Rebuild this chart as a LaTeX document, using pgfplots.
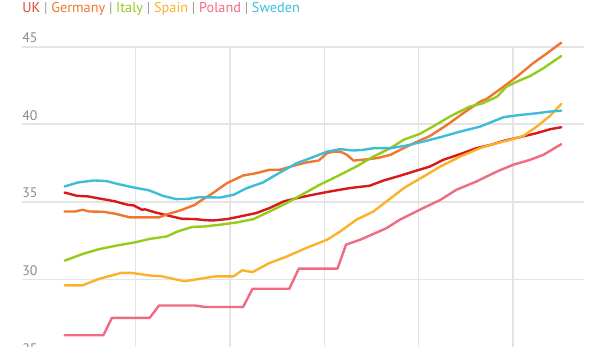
\documentclass[border=0pt]{standalone}
\usepackage{fontspec}
\setmainfont{PT Sans}
\usepackage{pgfplots}
\pgfplotsset{compat=1.18}
\definecolor{ukc}{HTML}{D7191C}
\definecolor{dec}{HTML}{EF7630}
\definecolor{itc}{HTML}{93CC1D}
\definecolor{esc}{HTML}{FBB22A}
\definecolor{plc}{HTML}{F06B82}
\definecolor{sec}{HTML}{3FBCD8}
\definecolor{ukt}{HTML}{E2443A}
\definecolor{gridc}{HTML}{E4E4E4}
\definecolor{labc}{HTML}{8A8A8A}
\definecolor{sepc}{HTML}{9A9A9A}
\begin{document}
\begin{tikzpicture}
\begin{axis}[
  at={(0pt,0pt)}, anchor=south west,
  scale only axis, width=421.5pt, height=232.7pt,
  xmin=1957.98, xmax=2017.51, ymin=25, ymax=45,
  axis line style={draw=none},
  major tick length=0pt,
  xtick={1970,1980,1990,2000,2010}, xticklabels={},
  ytick={25,30,35,40,45}, yticklabels={25,30,35,40,45},
  grid=major,
  x grid style={gridc, line width=1pt},
  y grid style={gridc, line width=1.3pt},
  yticklabel style={anchor=base west, inner sep=0pt, xshift=0pt, yshift=3pt, text=labc, font=\fontsize{10.4}{12}\selectfont},
  every axis plot/.append style={line width=1.8pt, line join=round, line cap=round, no markers},
  clip=false,
]
% UK
\addplot[ukc] coordinates {
(1962.5,35.60) (1963.8,35.39) (1965.0,35.35) (1966.5,35.18) (1967.8,35.04) (1968.5,34.92)
(1969.2,34.81) (1969.8,34.77) (1970.7,34.49) (1971.0,34.52) (1972.1,34.32) (1973.5,34.11)
(1974.9,33.91) (1976.3,33.89) (1977.4,33.82) (1978.2,33.80) (1979.7,33.89) (1981.1,34.06)
(1982.8,34.28) (1984.2,34.60) (1985.7,35.03) (1987.1,35.24) (1988.8,35.46) (1990.6,35.67)
(1992.7,35.89) (1994.8,36.04) (1996.3,36.38) (1998.0,36.68) (1999.8,37.02) (2001.2,37.28)
(2002.6,37.71) (2004.4,38.08) (2006.1,38.46) (2007.6,38.67) (2009.0,38.93) (2010.7,39.17)
(2012.5,39.43) (2013.9,39.68) (2015.1,39.81)
};
% Germany
\addplot[dec] coordinates {
(1962.5,34.38) (1963.6,34.38) (1964.4,34.49) (1965.1,34.38) (1966.6,34.36) (1967.9,34.23)
(1969.4,34.00) (1972.5,34.00) (1973.2,34.17) (1974.8,34.46) (1976.3,34.81) (1976.8,35.03)
(1978.2,35.57) (1979.7,36.21) (1981.4,36.70) (1982.8,36.85) (1984.2,37.07) (1985.3,37.07)
(1986.7,37.32) (1988.1,37.54) (1989.4,37.66) (1990.3,38.14) (1991.0,38.24) (1991.7,38.24)
(1992.4,38.03) (1993.1,37.66) (1994.5,37.74) (1995.6,37.82) (1997.0,38.03) (1998.4,38.46)
(1999.8,38.87) (2001.2,39.25) (2003.0,39.96) (2004.7,40.71) (2006.5,41.46) (2007.2,41.64)
(2009.0,42.43) (2010.4,43.07) (2012.1,43.93) (2013.6,44.58) (2015.1,45.26)
};
% Italy
\addplot[itc] coordinates {
(1962.5,31.21) (1964.5,31.66) (1966.2,31.96) (1968.0,32.18) (1970.1,32.41) (1971.5,32.61)
(1973.3,32.77) (1974.5,33.10) (1976.0,33.38) (1977.4,33.42) (1979.0,33.53) (1980.7,33.67)
(1982.5,33.89) (1984.2,34.38) (1986.0,34.92) (1987.8,35.52) (1989.5,36.10) (1991.3,36.63)
(1993.4,37.28) (1995.2,37.92) (1997.0,38.46) (1998.4,39.00) (2000.1,39.38) (2001.5,39.85)
(2003.3,40.50) (2005.4,41.14) (2006.8,41.36) (2008.3,41.78) (2009.3,42.43) (2010.4,42.75)
(2011.8,43.11) (2013.2,43.61) (2015.1,44.40)
};
% Spain
\addplot[esc] coordinates {
(1962.5,29.62) (1964.4,29.62) (1966.1,30.03) (1968.5,30.42) (1969.6,30.42) (1971.7,30.24)
(1972.8,30.20) (1975.2,29.88) (1977.4,30.10) (1978.5,30.20) (1980.4,30.20) (1981.3,30.59)
(1982.4,30.47) (1984.2,31.06) (1986.0,31.47) (1988.1,32.03) (1990.3,32.56) (1991.7,33.10)
(1993.4,33.85) (1995.2,34.38) (1996.6,35.03) (1998.2,35.78) (1998.7,35.99) (2000.5,36.63)
(2002.3,37.28) (2004.4,37.92) (2006.5,38.46) (2007.6,38.67) (2009.7,39.00) (2011.1,39.25)
(2012.5,39.85) (2013.9,40.54) (2015.1,41.31)
};
% Poland
\addplot[plc] coordinates {
(1962.5,26.40) (1966.6,26.40) (1967.5,27.52) (1971.5,27.52) (1972.5,28.32) (1976.3,28.32)
(1977.4,28.22) (1981.4,28.22) (1982.4,29.40) (1986.3,29.40) (1987.3,30.70) (1991.4,30.70)
(1992.3,32.24) (1993.8,32.56) (1995.2,32.93) (1996.6,33.31) (1998.0,33.85) (2000.1,34.49)
(2002.3,35.13) (2004.0,35.78) (2006.1,36.31) (2008.3,36.96) (2010.0,37.39) (2011.8,37.71)
(2013.2,38.03) (2015.1,38.72)
};
% Sweden
\addplot[sec] coordinates {
(1962.5,35.99) (1963.9,36.25) (1965.6,36.38) (1966.9,36.34) (1968.3,36.13) (1969.7,35.94)
(1971.4,35.75) (1972.9,35.39) (1974.3,35.18) (1975.6,35.19) (1976.7,35.30) (1979.0,35.28)
(1980.4,35.46) (1981.8,35.89) (1983.5,36.25) (1985.3,36.89) (1987.1,37.50) (1988.8,37.88)
(1990.3,38.24) (1991.7,38.40) (1993.1,38.31) (1994.1,38.35) (1995.2,38.46) (1997.0,38.46)
(1998.7,38.63) (2000.5,38.89) (2002.3,39.17) (2004.4,39.53) (2006.5,39.85) (2009.0,40.46)
(2010.7,40.60) (2012.5,40.71) (2013.9,40.82) (2015.1,40.88)
};
\end{axis}
\node[anchor=base west, inner sep=0pt, font=\fontsize{10.7}{12}\selectfont] at (0pt,258.5pt)
 {\textcolor{ukt}{UK} \textcolor{sepc}{|} \textcolor{dec}{Germany} \textcolor{sepc}{|} \textcolor{itc}{Italy} \textcolor{sepc}{|} \textcolor{esc}{Spain} \textcolor{sepc}{|} \textcolor{plc}{Poland} \textcolor{sepc}{|} \textcolor{sec}{Sweden}};
\pgfresetboundingbox
\path[use as bounding box] (-16.5pt,8.25pt) rectangle (445.5pt,267.75pt);
\end{tikzpicture}
\end{document}
